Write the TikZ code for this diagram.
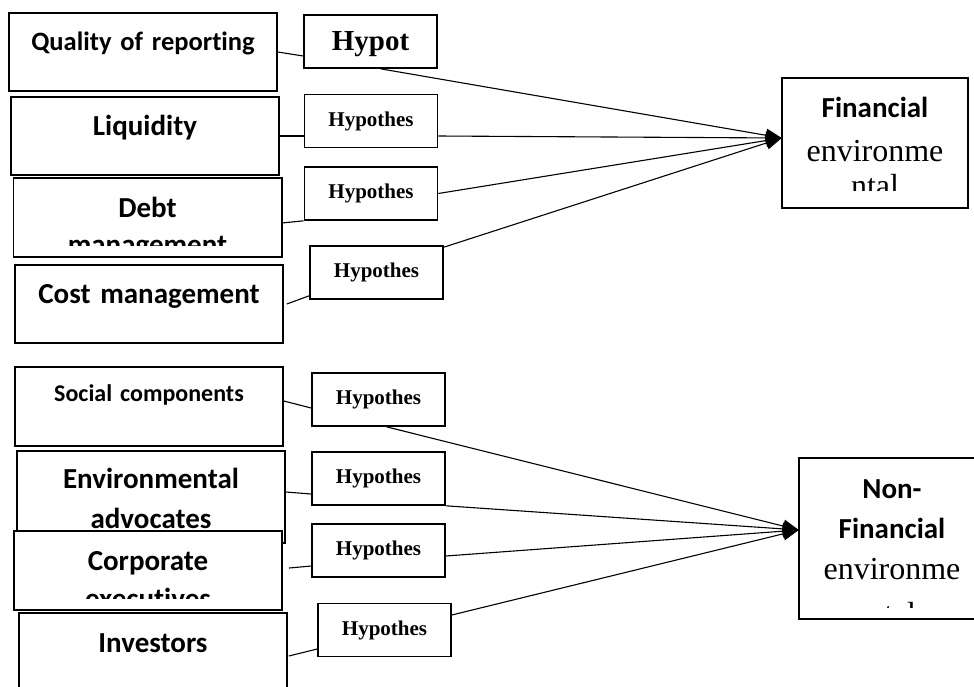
\documentclass[tikz,border=0pt]{standalone}
\usepackage{fontspec}
\usepackage{tikz}
\usetikzlibrary{arrows.meta}
\newfontfamily\calib[Ligatures=NoCommon]{Carlito}
\newfontfamily\tms{Liberation Serif}

\begin{document}
\begin{tikzpicture}[x=1pt,y=-1pt,
        boxline/.style={line width=1.6pt},
        lclip/.style={fill=white,inner sep=0pt,text width=268pt,align=center,
            font=\calib\bfseries\fontsize{29}{40}\selectfont,text height=39pt,text depth=39pt},
        lbox/.style={lclip,draw,boxline},
        hbox/.style={draw,boxline,fill=white,inner sep=0pt,minimum width=133pt,minimum height=53pt,
            font=\tms\bfseries\fontsize{21}{25}\selectfont},
        rclip/.style={fill=white,inner sep=0pt,text width=186pt,align=center,text height=39pt},
        edge/.style={line width=1.1pt},
        arr/.style={line width=1.1pt,-{Triangle[length=16pt,width=13pt]}}
    ]
        \useasboundingbox (0,0) rectangle (974,686);

        \node[lbox,text height=37pt,text depth=41pt,font=\calib\bfseries\fontsize{26.5}{34}\selectfont] (qual) at (143,52) {Quality of reporting};
        \node[lbox,text height=38pt,text depth=40pt] (liq) at (145,136) {Liquidity};
        \begin{scope}
            \clip (0,170) rectangle (300,245);
            \node[lclip,text height=39pt,text depth=40pt] (debt) at (147.5,217.5) {Debt\\[-3pt]management};
        \end{scope}
        \draw[boxline] (debt.south west) rectangle (debt.north east);
        \node[lbox,text height=38pt,text depth=40pt] (cost) at (149,304) {Cost management};

        \node[hbox,font=\tms\bfseries\fontsize{29}{34}\selectfont,text depth=0pt] (hyp1) at (370.5,41.5) {Hypot};
        \node[hbox] (hyp2) at (371,121) {Hypothes};
        \node[hbox] (hyp3) at (371,193.5) {Hypothes};
        \node[hbox] (hyp4) at (376.5,272.5) {Hypothes};

        \begin{scope}
            \clip (700,60) rectangle (974,190);
            \node[rclip,font=\tms\fontsize{32}{44}\selectfont,text depth=91pt] (fin) at (875,143)
                {{\calib\bfseries\fontsize{29}{44}\selectfont Financial}\\environme\\[-9pt]ntal};
        \end{scope}
        \draw[boxline] (fin.south west) rectangle (fin.north east);
        \coordinate (fintip) at ([yshift=5pt]fin.west);

        \draw[edge] (qual.east) -- ([yshift=-14.5pt]hyp1.west);
        \draw[arr] ([xshift=10pt]hyp1.south) -- (fintip);
        \draw[edge] (liq.east) -- (liq.east -| hyp2.west);
        \draw[arr] (liq.east -| hyp2.east) -- (fintip);
        \draw[edge] ([yshift=-5.5pt]debt.east) -- (hyp3.south west);
        \draw[arr] (hyp3.east) -- (fintip);
        \draw[edge] ([xshift=3pt]cost.east) -- ([yshift=4pt]hyp4.south west);
        \draw[arr] ([yshift=-2pt]hyp4.north east) -- (fintip);

        \node[lbox,text height=34pt,text depth=45pt,font=\calib\bfseries\fontsize{24}{30}\selectfont] (soc) at (149,406.5) {Social components};
        \node[lbox,text height=37pt,text depth=55pt] (env) at (151,497) {Environmental\\advocates};
        \begin{scope}
            \clip (0,520) rectangle (300,598);
            \node[lclip,text height=39pt,text depth=40pt] (corp) at (148,570.5) {Corporate\\[-2pt]executives};
        \end{scope}
        \draw[boxline] (corp.south west) rectangle (corp.north east);
        \node[lbox,text height=39pt,text depth=39pt] (inv) at (153,652) {Investors};

        \node[hbox] (hyp5) at (378.5,399.5) {Hypothes};
        \node[hbox] (hyp6) at (378.5,478.5) {Hypothes};
        \node[hbox] (hyp7) at (378.5,550.5) {Hypothes};
        \node[hbox] (hyp8) at (384.5,630) {Hypothes};

        \begin{scope}
            \clip (780,440) rectangle (990,607);
            \node[rclip,font=\tms\fontsize{32}{40.5}\selectfont,text height=40pt,text depth=121pt] (nfin) at (892,538.5)
                {{\calib\bfseries\fontsize{29}{40.5}\selectfont Non-\\Financial}\\environme\\[5pt]ntal};
        \end{scope}
        \draw[boxline] (nfin.south west) rectangle (nfin.north east);
        \coordinate (nfintip) at ([yshift=8.5pt]nfin.west);

        \draw[edge] ([yshift=5.5pt]soc.east) -- ([yshift=-8.5pt]hyp5.west);
        \draw[arr] ([xshift=8pt]hyp5.south) -- (nfintip);
        \draw[edge] ([yshift=5pt]env.east) -- ([yshift=-15.5pt]hyp6.west);
        \draw[arr] (hyp6.south east) -- (nfintip);
        \draw[edge] ([xshift=7pt,yshift=2.5pt]corp.east) -- ([yshift=-15.5pt]hyp7.west);
        \draw[arr] ([yshift=-5.5pt]hyp7.east) -- (nfintip);
        \draw[edge] ([xshift=1pt,yshift=-4pt]inv.east) -- ([yshift=-19pt]hyp8.west);
        \draw[arr] ([yshift=15pt]hyp8.east) -- (nfintip);
    \end{tikzpicture}
\end{document}
